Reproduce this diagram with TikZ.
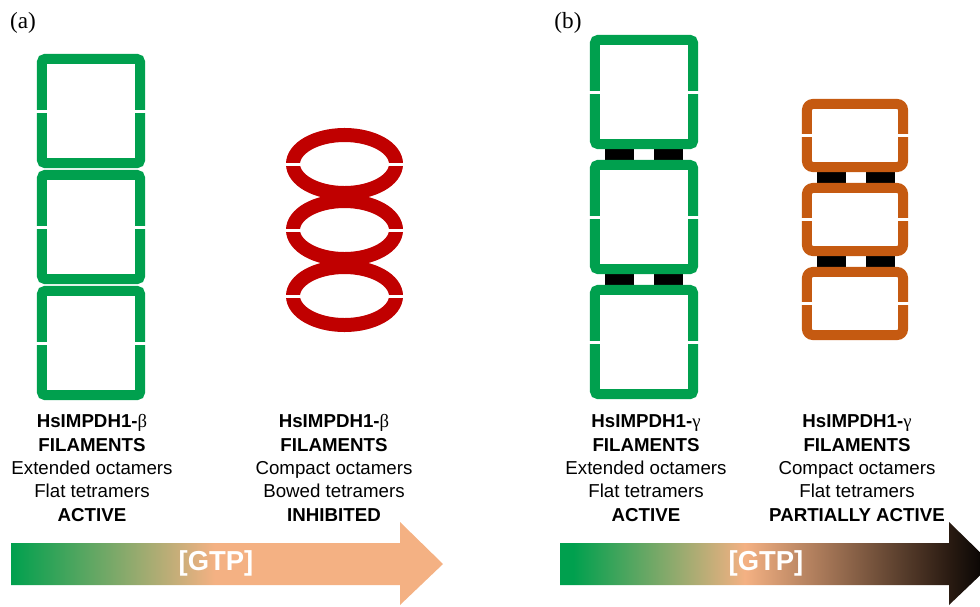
\documentclass[tikz,border=0pt]{standalone}
\usepackage{fontspec}
\setmainfont{Liberation Sans}
\newfontfamily\timesface{Liberation Serif}
\usepackage{tikz}
\usetikzlibrary{shapes.geometric,calc,backgrounds}

\definecolor{actgreen}{HTML}{00A04E}
\definecolor{inhred}{HTML}{C00000}
\definecolor{partorange}{HTML}{C55A11}
\definecolor{gtppeach}{HTML}{F4B183}
\definecolor{gtpdark}{HTML}{2A1B12}

\pgfdeclarehorizontalshading{gtpA}{100bp}{color(0bp)=(actgreen); color(25bp)=(actgreen); color(48.6bp)=(gtppeach); color(100bp)=(gtppeach)}
\pgfdeclarehorizontalshading{gtpB}{100bp}{color(0bp)=(actgreen); color(26.5bp)=(actgreen); color(46.4bp)=(gtppeach); color(70bp)=(gtpdark); color(75bp)=(black); color(100bp)=(black)}

\begin{document}
\begin{tikzpicture}[x=0.025cm,y=-0.025cm,
  octG/.style={draw=actgreen,line width=0.25cm,rounded corners=0.075cm,minimum width=2.45cm,minimum height=2.6cm,inner sep=0pt},
  octO/.style={draw=partorange,line width=0.25cm,rounded corners=0.15cm,minimum width=2.4cm,minimum height=1.575cm,inner sep=0pt},
  bowed/.style={ellipse,draw=inhred,line width=0.35cm,minimum width=2.575cm,minimum height=1.45cm,inner sep=0pt},
  bond/.style={line width=0.725cm,black},
  desc/.style={align=center,font=\fontsize{13.3}{16.6}\selectfont},
  gtp/.style={white,font=\fontsize{19.5}{22}\selectfont\bfseries},
  panel/.style={font=\fontsize{16.5}{18}\selectfont\timesface}]

\useasboundingbox (0,0) rectangle (980,606);
\clip (0,0) rectangle (980,606);

\node[panel] (pa) at (23,23) {(a)};
\node[panel] (pb) at (568,23) {(b)};

% (a) beta, extended
\node[octG] (a1) at (91,111) {};
\node[octG] (a2) at (91,227) {};
\node[octG] (a3) at (91,343) {};

% (a) beta, compact and bowed
\node[bowed] (r1) at (344.5,164) {};
\node[bowed] (r2) at (344.5,230) {};
\node[bowed] (r3) at (344.5,296) {};

% (b) gamma, extended
\node[octG] (b1) at (644,92) {};
\node[octG] (b2) at (644,217) {};
\node[octG] (b3) at (644,342) {};

% (b) gamma, compact
\node[octO] (c1) at (855,135.5) {};
\node[octO] (c2) at (855,219.5) {};
\node[octO] (c3) at (855,303.5) {};

\begin{pgfonlayer}{background}
\draw[bond] ($(b1.south)+(-24.5,0)$) -- ($(b2.north)+(-24.5,0)$);
\draw[bond] ($(b1.south)+(24.5,0)$) -- ($(b2.north)+(24.5,0)$);
\draw[bond] ($(b2.south)+(-24.5,0)$) -- ($(b3.north)+(-24.5,0)$);
\draw[bond] ($(b2.south)+(24.5,0)$) -- ($(b3.north)+(24.5,0)$);
\draw[bond] ($(c1.south)+(-24,0)$) -- ($(c2.north)+(-24,0)$);
\draw[bond] ($(c1.south)+(25,0)$) -- ($(c2.north)+(25,0)$);
\draw[bond] ($(c2.south)+(-24,0)$) -- ($(c3.north)+(-24,0)$);
\draw[bond] ($(c2.south)+(25,0)$) -- ($(c3.north)+(25,0)$);
\end{pgfonlayer}

% splits between the tetramers
\foreach \o in {a1,a2,a3,b1,b2,b3,c1,c2,c3,r1,r2,r3} {
  \fill[white] ($(\o.west)+(-8,-1.5)$) rectangle ($(\o.west)+(18,1.5)$);
  \fill[white] ($(\o.east)+(-18,-1.5)$) rectangle ($(\o.east)+(8,1.5)$);
}

\node[desc] (ta) at (92,468) {\textbf{HsIMPDH1-{\timesface\mdseries β}}\\\textbf{FILAMENTS}\\Extended octamers\\Flat tetramers\\\textbf{ACTIVE}};
\node[desc] (tr) at (334,468) {\textbf{HsIMPDH1-{\timesface\mdseries β}}\\\textbf{FILAMENTS}\\Compact octamers\\Bowed tetramers\\\textbf{INHIBITED}};
\node[desc] (tb) at (646,468) {\textbf{HsIMPDH1-{\timesface\mdseries γ}}\\\textbf{FILAMENTS}\\Extended octamers\\Flat tetramers\\\textbf{ACTIVE}};
\node[desc] (tc) at (857,468) {\textbf{HsIMPDH1-{\timesface\mdseries γ}}\\\textbf{FILAMENTS}\\Compact octamers\\Flat tetramers\\\textbf{PARTIALLY ACTIVE}};

% GTP arrows
\shade[shading=gtpA] (11,543) -- (400,543) -- (400,522) -- (443,564) -- (400,605) -- (400,585) -- (11,585) -- cycle;
\node[gtp] (ga) at (216,563) {[GTP]};

\shade[shading=gtpB] (560,543) -- (949,543) -- (949,522) -- (992,564) -- (949,605) -- (949,585) -- (560,585) -- cycle;
\node[gtp] (gb) at (766,563) {[GTP]};

\end{tikzpicture}
\end{document}
